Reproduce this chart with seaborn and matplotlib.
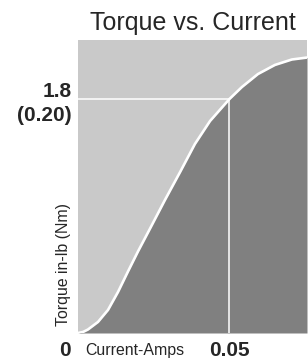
import matplotlib
matplotlib.use("Agg")
import matplotlib.pyplot as plt
import matplotlib.transforms as mtransforms
from matplotlib import font_manager
import seaborn as sns
import pandas as pd

# torque curve (amps, in-lb)
current = [0, 0.00165, 0.0033, 0.0066, 0.0099, 0.0132, 0.0165, 0.0198, 0.0238,
           0.0287, 0.0337, 0.0386, 0.0436, 0.05, 0.0541, 0.0594, 0.065, 0.0706, 0.0756]
torque = [0, 0.0077, 0.027, 0.085, 0.177, 0.315, 0.473, 0.627, 0.804,
          1.023, 1.238, 1.454, 1.631, 1.8, 1.892, 1.992, 2.062, 2.104, 2.119]

rated_current = 0.05
rated_torque = 1.8
x_ticks = [0, rated_current]
x_tick_labels = ["0", "0.05"]
y_ticks = [rated_torque]
y_tick_labels = ["1.8\n(0.20)"]

df = pd.DataFrame({"current": current, "torque": torque})

sns.set_style("white")
plt.rcParams["font.family"] = ["Liberation Sans", "DejaVu Sans"]
names = {f.name for f in font_manager.fontManager.ttflist}
if "Liberation Sans Narrow" in names:
    label_font, label_size = ["Liberation Sans Narrow", "DejaVu Sans"], 14
else:
    label_font, label_size = ["Liberation Sans", "DejaVu Sans"], 11.4

fig = plt.figure(figsize=(3.08, 3.6), dpi=100)
ax = fig.add_axes([78 / 308, 27 / 360, 229 / 308, 293 / 360])
ax.set_facecolor("#c9c9c9")

ax.fill_between(df["current"], df["torque"], 0, color="#808080", lw=0)
sns.lineplot(data=df, x="current", y="torque", ax=ax, color="white", lw=1.9)
ax.plot([0, rated_current], [rated_torque, rated_torque], color="white", lw=1.1)
ax.plot([rated_current, rated_current], [0, rated_torque], color="white", lw=1.1)

ax.set_xlim(0, 0.0756)
ax.set_ylim(0, 2.254)
for s in ax.spines.values():
    s.set_visible(False)

ax.set_xticks(x_ticks)
ax.set_xticklabels(x_tick_labels, fontsize=15, fontweight="bold")
ax.set_yticks(y_ticks)
ax.set_yticklabels(y_tick_labels, fontsize=15, fontweight="bold", linespacing=1.3)
ax.tick_params(axis="both", length=0)
ax.tick_params(axis="x", pad=6)
ax.tick_params(axis="y", pad=4.3)
zero = ax.get_xticklabels()[0]
zero.set_ha("right")
zero.set_transform(zero.get_transform() + mtransforms.ScaledTranslation(-0.07, 0, fig.dpi_scale_trans))

ax.set_title("Torque vs. Current", fontsize=18, pad=7)

ax.set_xlabel("Current-Amps", fontsize=label_size, family=label_font, ha="left", va="center")
ax.xaxis.set_label_coords(7 / 229, -17 / 293)
ax.set_ylabel("Torque in-lb (Nm)", fontsize=label_size, family=label_font, ha="center", va="center")
ax.yaxis.set_label_coords(-14 / 229, 68 / 293)

fig.savefig("out.png", dpi=100)
